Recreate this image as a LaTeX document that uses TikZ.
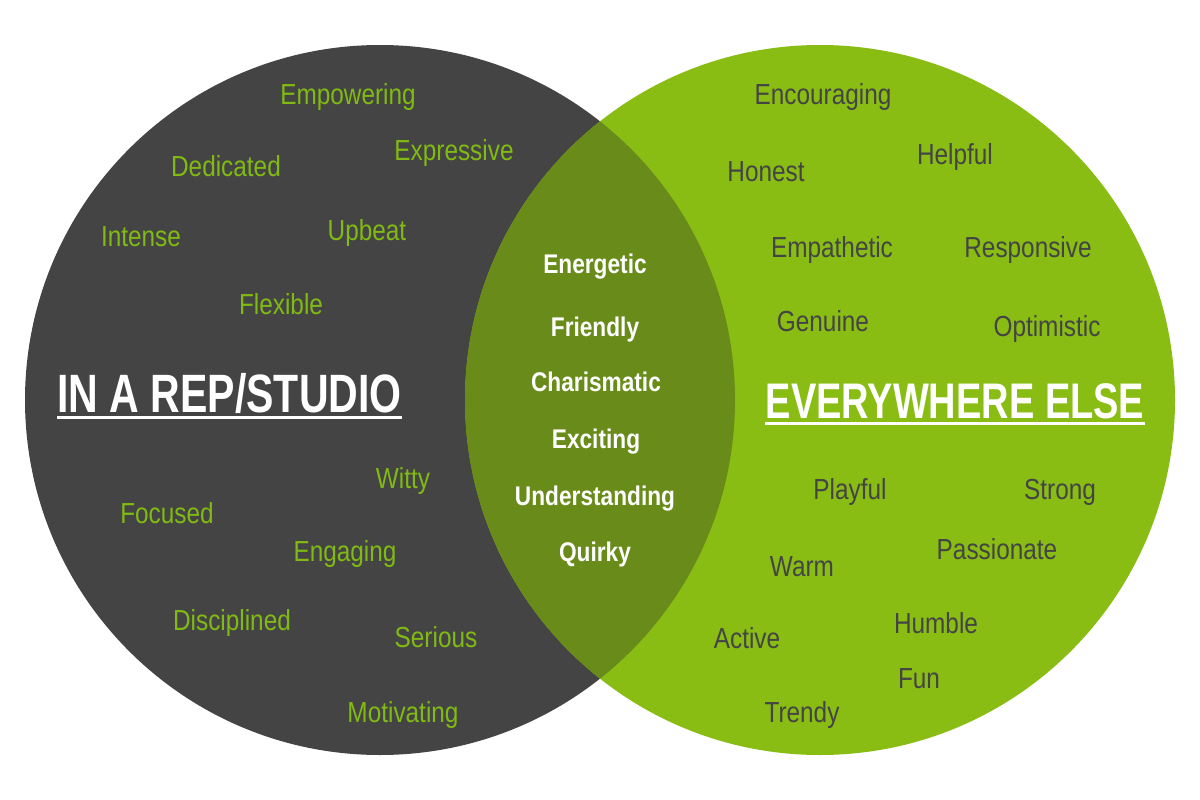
\documentclass[tikz,border=0pt]{standalone}
\usepackage{fontspec}
\newfontfamily\regf[FakeStretch=0.84]{Liberation Sans}
\newfontfamily\boldf[FakeStretch=0.84]{Liberation Sans}
\newfontfamily\titf[FakeStretch=0.76]{Liberation Sans}
\definecolor{darkc}{HTML}{444444}
\definecolor{greenc}{HTML}{89BD14}
\definecolor{lensc}{HTML}{688B1A}
\definecolor{lgreen}{HTML}{80BA12}
\definecolor{rgray}{HTML}{444444}
\tikzset{
  word/.style={inner sep=0pt, anchor=base},
  lw/.style={word, text=lgreen, font=\regf\fontsize{29}{35}\selectfont},
  rw/.style={word, text=rgray, font=\regf\fontsize{29}{35}\selectfont},
  cw/.style={word, text=white, font=\boldf\bfseries\fontsize{27}{32}\selectfont},
  titlebox/.style={word, text=white},
  uline/.style={draw=white, line width=3pt}
}
\begin{document}
\begin{tikzpicture}[x=1pt, y=-1pt]
\useasboundingbox (0,0) rectangle (1200,800);
\fill[white] (0,0) rectangle (1200,800);
% circles
\fill[darkc] (380,400) circle (355pt);
\fill[greenc] (820,400) circle (355pt);
\begin{scope}
  \clip (380,400) circle (355pt);
  \fill[lensc] (820,400) circle (355pt);
\end{scope}
% left words
\node[lw] (l1) at (348,104) {Empowering};
\node[lw] (l2) at (454,160) {Expressive};
\node[lw] (l3) at (226,176) {Dedicated};
\node[lw] (l4) at (141,246) {Intense};
\node[lw] (l5) at (367,240) {Upbeat};
\node[lw] (l6) at (281,314) {Flexible};
\node[lw] (l7) at (403,488) {Witty};
\node[lw] (l8) at (167,523) {Focused};
\node[lw] (l9) at (345,561) {Engaging};
\node[lw] (l10) at (232,630) {Disciplined};
\node[lw] (l11) at (436,647) {Serious};
\node[lw] (l12) at (403,722) {Motivating};
% center words
\node[cw] (c1) at (595,273) {Energetic};
\node[cw] (c2) at (595,336) {Friendly};
\node[cw] (c3) at (596,391) {Charismatic};
\node[cw] (c4) at (596,448) {Exciting};
\node[cw] (c5) at (595,505) {Understanding};
\node[cw] (c6) at (595,561) {Quirky};
% right words
\node[rw] (r1) at (823,104) {Encouraging};
\node[rw] (r2) at (766,181) {Honest};
\node[rw] (r3) at (955,164) {Helpful};
\node[rw] (r4) at (832,257) {Empathetic};
\node[rw] (r5) at (1028,257) {Responsive};
\node[rw] (r6) at (823,331) {Genuine};
\node[rw] (r7) at (1047,336) {Optimistic};
\node[rw] (r8) at (850,499) {Playful};
\node[rw] (r9) at (1060,499) {Strong};
\node[rw] (r10) at (997,559) {Passionate};
\node[rw] (r11) at (802,576) {Warm};
\node[rw] (r12) at (936,633) {Humble};
\node[rw] (r13) at (747,648) {Active};
\node[rw] (r14) at (919,688) {Fun};
\node[rw] (r15) at (802,722) {Trendy};
% titles
\node[titlebox, font=\titf\bfseries\fontsize{54}{60}\selectfont] (t1) at (229.5,412) {IN A REP/STUDIO};
\node[titlebox, font=\titf\bfseries\fontsize{50}{56}\selectfont] (t2) at (955,418) {EVERYWHERE ELSE};
\draw[uline] ([yshift=-5.5pt]t1.base west) -- ([yshift=-5.5pt]t1.base east);
\draw[uline] ([yshift=-5.5pt]t2.base west) -- ([yshift=-5.5pt]t2.base east);
\end{tikzpicture}
\end{document}
